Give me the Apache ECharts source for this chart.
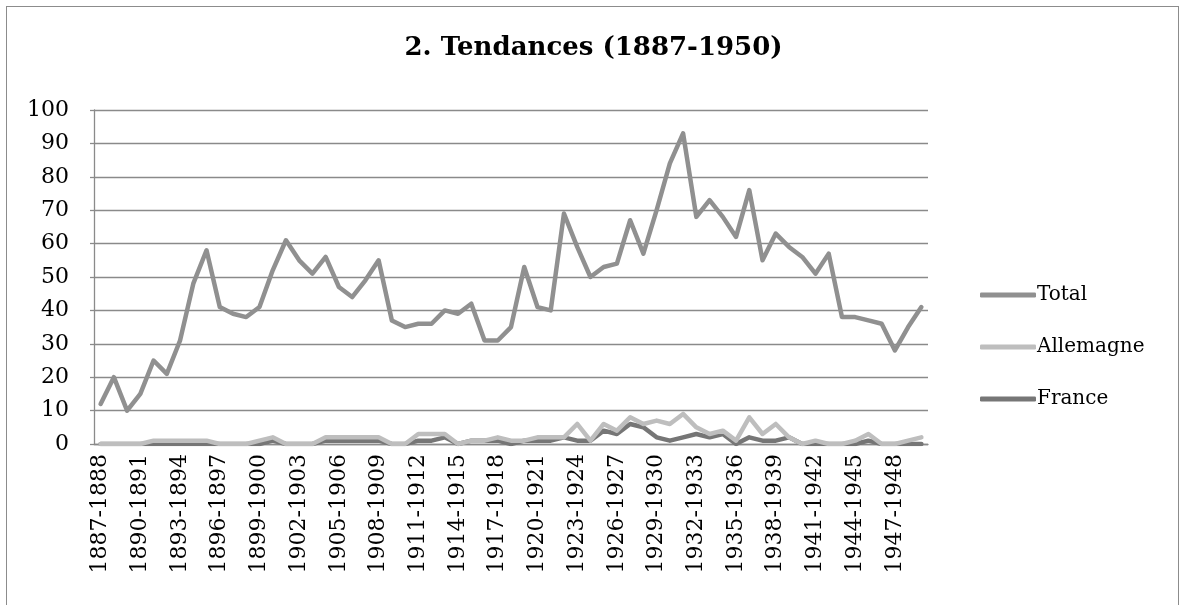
<!DOCTYPE html>
<html lang="fr">
<head>
    <meta charset="utf-8"/>
    <title>2. Tendances (1887-1950)</title>
    <script src="https://cdn.jsdelivr.net/npm/echarts@6/dist/echarts.min.js"></script>
    <style>
        html, body { margin: 0; padding: 0; background: #fff; }
        #frame {
            position: absolute; left: 6px; top: 6px; width: 1173px; height: 640px;
            border: 1px solid #8c8c8c; box-sizing: border-box;
        }
        #chart { position: absolute; left: 0; top: 0; width: 1187px; height: 605px; }
    </style>
</head>
<body>
<div id="frame"></div>
<div id="chart"></div>
<script>
    // saisons (axe des x)
    var categories = [
        '1887-1888', '1888-1889', '1889-1890', '1890-1891', '1891-1892', '1892-1893', '1893-1894',
        '1894-1895', '1895-1896', '1896-1897', '1897-1898', '1898-1899', '1899-1900', '1900-1901',
        '1901-1902', '1902-1903', '1903-1904', '1904-1905', '1905-1906', '1906-1907', '1907-1908',
        '1908-1909', '1909-1910', '1910-1911', '1911-1912', '1912-1913', '1913-1914', '1914-1915',
        '1915-1916', '1916-1917', '1917-1918', '1918-1919', '1919-1920', '1920-1921', '1921-1922',
        '1922-1923', '1923-1924', '1924-1925', '1925-1926', '1926-1927', '1927-1928', '1928-1929',
        '1929-1930', '1930-1931', '1931-1932', '1932-1933', '1933-1934', '1934-1935', '1935-1936',
        '1936-1937', '1937-1938', '1938-1939', '1939-1940', '1940-1941', '1941-1942', '1942-1943',
        '1943-1944', '1944-1945', '1945-1946', '1946-1947', '1947-1948', '1948-1949', '1949-1950'
    ];

    var total = [
        12, 20, 10, 15, 25, 21, 31, 48, 58, 41, 39, 38, 41, 52, 61, 55, 51, 56, 47, 44, 49,
        55, 37, 35, 36, 36, 40, 39, 42, 31, 31, 35, 53, 41, 40, 69, 59, 50, 53, 54, 67, 57,
        70, 84, 93, 68, 73, 68, 62, 76, 55, 63, 59, 56, 51, 57, 38, 38, 37, 36, 28, 35, 41
    ];

    var allemagne = [
        0, 0, 0, 0, 1, 1, 1, 1, 1, 0, 0, 0, 1, 2, 0, 0, 0, 2, 2, 2, 2,
        2, 0, 0, 3, 3, 3, 0, 1, 1, 2, 1, 1, 2, 2, 2, 6, 1, 6, 4, 8, 6,
        7, 6, 9, 5, 3, 4, 1, 8, 3, 6, 2, 0, 1, 0, 0, 1, 3, 0, 0, 1, 2
    ];

    var france = [
        0, 0, 0, 0, 0, 0, 0, 0, 0, 0, 0, 0, 0, 1, 0, 0, 0, 1, 1, 1, 1,
        1, 0, 0, 1, 1, 2, 0, 1, 1, 1, 0, 1, 1, 1, 2, 1, 1, 4, 3, 6, 5,
        2, 1, 2, 3, 2, 3, 0, 2, 1, 1, 2, 0, 0, 0, 0, 0, 1, 0, 0, 0, 0
    ];

    var yTicks = [0, 10, 20, 30, 40, 50, 60, 70, 80, 90, 100];

    var serif = '"DejaVu Serif", "Liberation Serif", serif';
    var gridColor = '#8a8a8a';

    // une étiquette sur trois, comme dans le graphique d'origine
    var labelIndex = [];
    for (var i = 0; i < categories.length; i += 3) {
        labelIndex.push([i, 0]);
    }

    var chart = echarts.init(document.getElementById('chart'), null, {renderer: 'canvas'});

    var lineSerie = function (name, data, color, z) {
        return {
            name: name,
            type: 'line',
            data: data,
            symbol: 'none',
            z: z,
            lineStyle: {color: color, width: 4.5, cap: 'round', join: 'round'},
            itemStyle: {color: color}
        };
    };

    var option = {
        animation: false,
        title: {
            text: '2. Tendances (1887-1950)',
            left: 'center',
            top: 30,
            textStyle: {fontFamily: serif, fontSize: 26, fontWeight: 'bold', color: '#000'}
        },
        legend: {
            orient: 'vertical',
            left: 975,
            top: 278,
            itemWidth: 56,
            itemHeight: 5,
            itemGap: 28,
            icon: 'roundRect',
            data: ['Total', 'Allemagne', 'France'],
            textStyle: {fontFamily: serif, fontSize: 20, color: '#000', lineHeight: 24, padding: [0, 0, 0, -4]}
        },
        grid: {
            left: 94,
            right: 259,
            top: 110,
            bottom: 161
        },
        xAxis: {
            type: 'category',
            data: categories,
            boundaryGap: true,
            axisLine: {lineStyle: {color: gridColor, width: 1.3}},
            axisTick: {show: false},
            axisLabel: {show: false}
        },
        yAxis: {
            type: 'value',
            min: yTicks[0],
            max: yTicks[yTicks.length - 1],
            interval: 10,
            axisLine: {show: true, lineStyle: {color: gridColor, width: 1.3}},
            axisTick: {show: true, length: 4, lineStyle: {color: gridColor, width: 1.3}},
            splitLine: {lineStyle: {color: gridColor, width: 1.3}},
            axisLabel: {
                margin: 25,
                fontFamily: serif,
                fontSize: 22,
                color: '#000'
            }
        },
        series: [
            lineSerie('Total', total, '#909090', 2),
            lineSerie('Allemagne', allemagne, '#bebebe', 4),
            lineSerie('France', france, '#767676', 3),
            {
                // étiquettes verticales de l'axe des x
                name: 'labels',
                type: 'custom',
                data: labelIndex,
                silent: true,
                clip: false,
                renderItem: function (params, api) {
                    var p = api.coord([api.value(0), api.value(1)]);
                    return {
                        type: 'text',
                        x: p[0],
                        y: p[1] + 10,
                        rotation: Math.PI / 2,
                        style: {
                            text: categories[api.value(0)],
                            align: 'right',
                            verticalAlign: 'middle',
                            fontFamily: serif,
                            fontSize: 22,
                            fill: '#000'
                        }
                    };
                }
            }
        ]
    };

    chart.setOption(option);
</script>
</body>
</html>
